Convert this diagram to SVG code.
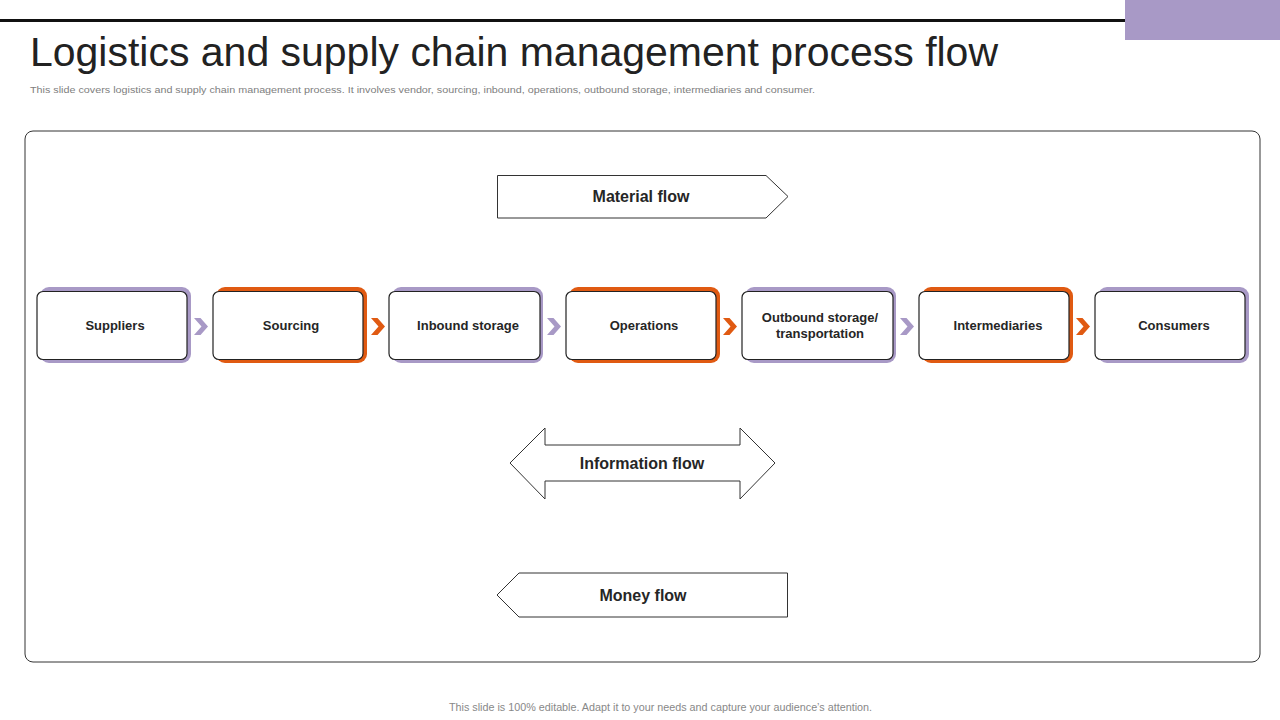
<svg xmlns="http://www.w3.org/2000/svg" width="1280" height="720" viewBox="0 0 1280 720">
<defs>
<style>
.title{font-family:"Liberation Sans",Arial,sans-serif;font-size:40px;fill:#222;}
.sub{font-family:"Liberation Sans",Arial,sans-serif;font-size:9.5px;fill:#808080;}
.foot{font-family:"Liberation Sans",Arial,sans-serif;font-size:10px;fill:#888;}
.box{fill:#fff;stroke:#222;stroke-width:1.2;}
.shp{fill:#A899C6;}
.sho{fill:#E05A12;}
.lbl{font-family:"Liberation Sans",Arial,sans-serif;font-size:13px;font-weight:bold;fill:#262626;text-anchor:middle;}
.flow{fill:#fff;stroke:#333;stroke-width:1;}
.flbl{font-family:"Liberation Sans",Arial,sans-serif;font-size:16px;font-weight:bold;fill:#262626;text-anchor:middle;}
.chp{fill:#A899C6;}
.cho{fill:#E05A12;}
</style>
<path id="chev" d="M0,0 H6.5 L14,8.5 L6.5,17 H0 L7.5,8.5 Z"/>
</defs>
<rect width="1280" height="720" fill="#fff"/>
<rect x="1125" y="0" width="155" height="40" fill="#A899C6"/>
<rect x="0" y="19" width="1125" height="3" fill="#111"/>
<text class="title" x="30" y="66" textLength="968" lengthAdjust="spacingAndGlyphs">Logistics and supply chain management process flow</text>
<text class="sub" x="30" y="93" textLength="785" lengthAdjust="spacingAndGlyphs">This slide covers logistics and supply chain management  process. It involves vendor, sourcing, inbound, operations, outbound storage, intermediaries and consumer.</text>
<rect x="25" y="131" width="1235" height="531" rx="8" fill="none" stroke="#333" stroke-width="1"/>

<g id="material-flow">
<path class="flow" d="M497.5,175.5 H766 L788,196.5 L766,218 H497.5 Z"/>
<text class="flbl" x="641" y="202">Material flow</text>
</g>

<g id="information-flow">
<path class="flow" d="M510,463 L545,428 V445 H740 V428 L775,463 L740,499 V481 H545 V499 Z"/>
<text class="flbl" x="642" y="469">Information flow</text>
</g>

<g id="money-flow">
<path class="flow" d="M497,595 L519,573 H787.5 V617 H519 Z"/>
<text class="flbl" x="643" y="601">Money flow</text>
</g>

<g id="suppliers">
<rect class="shp" x="40" y="287" width="151" height="76" rx="9"/>
<rect class="box" x="37" y="291.5" width="150" height="68" rx="6"/>
<text class="lbl" x="115" y="330">Suppliers</text>
</g>
<g id="sourcing">
<rect class="sho" x="216" y="287" width="151" height="76" rx="9"/>
<rect class="box" x="213" y="291.5" width="150" height="68" rx="6"/>
<text class="lbl" x="291" y="330">Sourcing</text>
</g>
<g id="inbound-storage">
<rect class="shp" x="392" y="287" width="151" height="76" rx="9"/>
<rect class="box" x="389" y="291.5" width="151" height="68" rx="6"/>
<text class="lbl" x="468" y="330">Inbound storage</text>
</g>
<g id="operations">
<rect class="sho" x="569" y="287" width="151" height="76" rx="9"/>
<rect class="box" x="566" y="291.5" width="150" height="68" rx="6"/>
<text class="lbl" x="644" y="330">Operations</text>
</g>
<g id="outbound-storage">
<rect class="shp" x="745" y="287" width="151" height="76" rx="9"/>
<rect class="box" x="742" y="291.5" width="151" height="68" rx="6"/>
<text class="lbl" x="820" y="322">Outbound storage/</text>
<text class="lbl" x="820" y="338">transportation</text>
</g>
<g id="intermediaries">
<rect class="sho" x="922" y="287" width="151" height="76" rx="9"/>
<rect class="box" x="919" y="291.5" width="150" height="68" rx="6"/>
<text class="lbl" x="998" y="330">Intermediaries</text>
</g>
<g id="consumers">
<rect class="shp" x="1098" y="287" width="151" height="76" rx="9"/>
<rect class="box" x="1095" y="291.5" width="150" height="68" rx="6"/>
<text class="lbl" x="1174" y="330">Consumers</text>
</g>

<g id="connectors">
<use href="#chev" class="chp" x="194" y="318"/>
<use href="#chev" class="cho" x="371" y="318"/>
<use href="#chev" class="chp" x="547" y="318"/>
<use href="#chev" class="cho" x="723" y="318"/>
<use href="#chev" class="chp" x="900" y="318"/>
<use href="#chev" class="cho" x="1076" y="318"/>
</g>

<text class="foot" x="449" y="711" textLength="423" lengthAdjust="spacingAndGlyphs">This slide is 100% editable.  Adapt it to your needs and capture your audience’s attention.</text>
</svg>
